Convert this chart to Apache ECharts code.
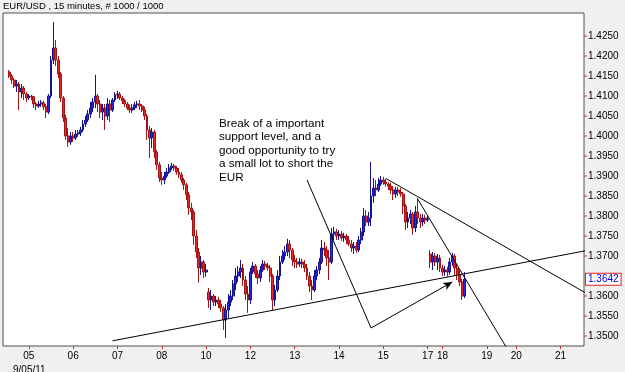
<!DOCTYPE html>
<html><head><meta charset="utf-8">
<script src="https://cdn.jsdelivr.net/npm/echarts@6/dist/echarts.min.js"></script>
<style>html,body{margin:0;padding:0;background:#f0f0f0}#c{width:625px;height:372px}</style>
</head><body><div id="c"></div>
<script>
// ---- data (15-minute EUR/USD bars, resampled) ----
const opens = [
1.4160,1.4150,1.4140,1.4125,1.4130,1.4110,1.4120,1.4105,1.4095,1.4100,
1.4098,1.4080,1.4075,1.4080,1.4083,1.4073,1.4060,1.4100,1.4190,1.4220,
1.4190,1.4155,1.4095,1.4045,1.4000,1.3985,1.4000,1.3995,1.4005,1.4008,
1.4015,1.4030,1.4040,1.4055,1.4070,1.4085,1.4100,1.4080,1.4060,1.4070,
1.4050,1.4080,1.4065,1.4090,1.4103,1.4105,1.4095,1.4088,1.4080,1.4070,
1.4065,1.4070,1.4078,1.4080,1.4075,1.4065,1.4050,1.4015,1.3995,1.4010,
1.3960,1.3928,1.3895,1.3890,1.3900,1.3910,1.3920,1.3925,1.3920,1.3910,
1.3903,1.3890,1.3878,1.3853,1.3820,1.3810,1.3750,1.3710,1.3670,1.3685,
1.3660,1.3610,1.3590,1.3600,1.3585,1.3590,1.3580,1.3570,1.3540,1.3565,
1.3585,1.3600,1.3630,1.3650,1.3660,1.3670,1.3640,1.3605,1.3590,1.3660,
1.3675,1.3655,1.3645,1.3665,1.3680,1.3675,1.3670,1.3650,1.3590,1.3615,
1.3650,1.3685,1.3700,1.3710,1.3730,1.3715,1.3690,1.3685,1.3680,1.3685,
1.3680,1.3670,1.3650,1.3625,1.3615,1.3650,1.3665,1.3685,1.3720,1.3715,
1.3695,1.3685,1.3755,1.3760,1.3750,1.3755,1.3745,1.3750,1.3740,1.3730,
1.3720,1.3725,1.3715,1.3740,1.3760,1.3800,1.3785,1.3795,1.3850,1.3870,
1.3865,1.3880,1.3890,1.3885,1.3880,1.3875,1.3865,1.3855,1.3865,1.3860,
1.3855,1.3825,1.3785,1.3795,1.3805,1.3770,1.3810,1.3795,1.3785,1.3795,
1.3790,1.3705,1.3685,1.3700,1.3685,1.3695,1.3670,1.3660,1.3665,1.3660,
1.3685,1.3700,1.3670,1.3655,1.3635,1.3600];
const closes = [
1.4150,1.4140,1.4125,1.4130,1.4110,1.4120,1.4105,1.4095,1.4100,1.4098,
1.4080,1.4075,1.4080,1.4083,1.4073,1.4060,1.4100,1.4190,1.4220,1.4190,
1.4155,1.4095,1.4045,1.4000,1.3985,1.4000,1.3995,1.4005,1.4008,1.4015,
1.4030,1.4040,1.4055,1.4070,1.4085,1.4100,1.4080,1.4060,1.4070,1.4050,
1.4080,1.4065,1.4090,1.4103,1.4105,1.4095,1.4088,1.4080,1.4070,1.4065,
1.4070,1.4078,1.4080,1.4075,1.4065,1.4050,1.4015,1.3995,1.4010,1.3960,
1.3928,1.3895,1.3890,1.3900,1.3910,1.3920,1.3925,1.3920,1.3910,1.3903,
1.3890,1.3878,1.3853,1.3820,1.3810,1.3750,1.3710,1.3670,1.3685,1.3660,
1.3665,1.3590,1.3600,1.3585,1.3590,1.3580,1.3570,1.3540,1.3565,1.3585,
1.3600,1.3630,1.3650,1.3660,1.3670,1.3640,1.3605,1.3590,1.3660,1.3675,
1.3655,1.3645,1.3665,1.3680,1.3675,1.3670,1.3650,1.3590,1.3615,1.3650,
1.3685,1.3700,1.3710,1.3730,1.3715,1.3690,1.3685,1.3680,1.3685,1.3680,
1.3670,1.3650,1.3625,1.3615,1.3650,1.3665,1.3685,1.3720,1.3715,1.3695,
1.3685,1.3755,1.3760,1.3750,1.3755,1.3745,1.3750,1.3740,1.3730,1.3720,
1.3725,1.3715,1.3740,1.3760,1.3800,1.3785,1.3795,1.3850,1.3870,1.3865,
1.3880,1.3890,1.3885,1.3880,1.3875,1.3865,1.3855,1.3865,1.3860,1.3855,
1.3825,1.3785,1.3795,1.3805,1.3770,1.3810,1.3795,1.3785,1.3795,1.3790,
1.3793,1.3685,1.3700,1.3685,1.3695,1.3670,1.3660,1.3665,1.3660,1.3685,
1.3700,1.3670,1.3655,1.3635,1.3600,1.3642];
const lows = [
1.4145,1.4130,1.4120,1.4110,1.4065,1.4095,1.4090,1.4085,1.4090,1.4090,
1.4070,1.4065,1.4070,1.4073,1.4065,1.4045,1.4055,1.4095,1.4180,1.4175,
1.4145,1.4085,1.4035,1.3990,1.3973,1.3978,1.3985,1.3990,1.3998,1.4000,
1.4010,1.4023,1.4035,1.4045,1.4060,1.4070,1.4060,1.4045,1.4040,1.4015,
1.4040,1.4035,1.4060,1.4085,1.4093,1.4090,1.4080,1.4073,1.4065,1.4058,
1.4058,1.4065,1.4070,1.4065,1.4060,1.4040,1.3990,1.3945,1.3970,1.3945,
1.3915,1.3885,1.3878,1.3880,1.3895,1.3905,1.3915,1.3913,1.3903,1.3895,
1.3883,1.3865,1.3840,1.3803,1.3790,1.3728,1.3695,1.3633,1.3653,1.3645,
1.3648,1.3570,1.3565,1.3575,1.3575,1.3570,1.3560,1.3515,1.3495,1.3545,
1.3575,1.3590,1.3615,1.3635,1.3645,1.3625,1.3590,1.3558,1.3580,1.3655,
1.3645,1.3630,1.3635,1.3660,1.3665,1.3663,1.3635,1.3565,1.3575,1.3610,
1.3640,1.3680,1.3690,1.3700,1.3695,1.3675,1.3670,1.3670,1.3673,1.3670,
1.3660,1.3640,1.3610,1.3590,1.3610,1.3640,1.3655,1.3680,1.3700,1.3675,
1.3640,1.3680,1.3740,1.3740,1.3740,1.3738,1.3735,1.3730,1.3725,1.3710,
1.3705,1.3708,1.3710,1.3730,1.3750,1.3775,1.3775,1.3775,1.3833,1.3850,
1.3860,1.3875,1.3878,1.3873,1.3865,1.3855,1.3840,1.3845,1.3850,1.3848,
1.3805,1.3765,1.3770,1.3780,1.3753,1.3760,1.3780,1.3770,1.3775,1.3780,
1.3785,1.3670,1.3665,1.3675,1.3665,1.3660,1.3650,1.3650,1.3648,1.3653,
1.3675,1.3650,1.3640,1.3625,1.3590,1.3595];
const highs = [
1.4165,1.4155,1.4145,1.4140,1.4135,1.4130,1.4125,1.4110,1.4105,1.4103,
1.4100,1.4085,1.4088,1.4090,1.4088,1.4080,1.4105,1.4200,1.4285,1.4240,
1.4200,1.4160,1.4100,1.4053,1.4020,1.4010,1.4010,1.4015,1.4015,1.4023,
1.4040,1.4050,1.4065,1.4085,1.4095,1.4153,1.4105,1.4090,1.4080,1.4080,
1.4095,1.4090,1.4095,1.4110,1.4113,1.4110,1.4100,1.4093,1.4085,1.4078,
1.4080,1.4085,1.4088,1.4090,1.4080,1.4073,1.4055,1.4025,1.4020,1.4015,
1.3965,1.3935,1.3910,1.3910,1.3920,1.3930,1.3933,1.3930,1.3925,1.3920,
1.3910,1.3895,1.3883,1.3860,1.3833,1.3815,1.3765,1.3720,1.3700,1.3690,
1.3680,1.3620,1.3615,1.3605,1.3600,1.3598,1.3590,1.3575,1.3580,1.3605,
1.3615,1.3640,1.3670,1.3675,1.3690,1.3680,1.3650,1.3625,1.3670,1.3685,
1.3680,1.3665,1.3675,1.3690,1.3688,1.3683,1.3678,1.3655,1.3628,1.3665,
1.3700,1.3715,1.3725,1.3743,1.3740,1.3720,1.3703,1.3695,1.3695,1.3693,
1.3690,1.3680,1.3660,1.3640,1.3665,1.3675,1.3695,1.3740,1.3735,1.3725,
1.3715,1.3770,1.3773,1.3768,1.3765,1.3763,1.3758,1.3755,1.3750,1.3740,
1.3735,1.3735,1.3750,1.3770,1.3820,1.3815,1.3810,1.3935,1.3895,1.3890,
1.3895,1.3900,1.3898,1.3893,1.3885,1.3883,1.3875,1.3873,1.3873,1.3870,
1.3860,1.3830,1.3810,1.3815,1.3810,1.3825,1.3845,1.3805,1.3805,1.3803,
1.3800,1.3715,1.3710,1.3708,1.3705,1.3703,1.3678,1.3675,1.3673,1.3695,
1.3708,1.3705,1.3680,1.3665,1.3643,1.3660];

// x-axis day labels and their bar slots
const dayLabels = ['05','06','07','08','10','12','13','14','15','17','18','19','20','21'];
const daySlots  = [10,28,46,64,82,100,118,136,154,172,178,196,208,226];
const slotCount = 236;
const firstSlot = 2;

// hand-drawn trend lines: [slot, price]
const supportLine = [[44, 1.3488], [242, 1.3720]];
const resistLine  = [[155, 1.3894], [242, 1.3587]];
const steepLine   = [[168, 1.3842], [217, 1.3337]];
const pointerLine = [[123, 1.3890], [149, 1.3520]];
const arrowLine   = [[149, 1.3520], [182, 1.3635]];

const chartTitle = 'EUR/USD , 15 minutes, # 1000 / 1000';
const startDate = '9/05/11';
const noteLines = ['Break of a important', 'support level, and a', 'good opportunity to try', 'a small lot to short the', 'EUR'];

const lastPrice = closes[closes.length - 1];
const categories = Array.from({length: slotCount}, () => '');
daySlots.forEach((s, k) => { categories[s] = dayLabels[k]; });
const candles = [];
for (let k = 0; k < firstSlot; k++) candles.push('-');
for (let k = 0; k < opens.length; k++) candles.push([opens[k], closes[k], lows[k], highs[k]]);

const FONT = 'Arial, "Liberation Sans", sans-serif';
const trend = (d) => ({type: 'line', data: d, symbol: 'none', clip: true, silent: true, z: 4,
  lineStyle: {color: '#000', width: 1}, animation: false});

const GRID = {left: 3, right: 41, top: 13, bottom: 26};
const chart = echarts.init(document.getElementById('c'), null, {renderer: 'canvas'});
chart.setOption({
  animation: false,
  backgroundColor: '#f0f0f0',
  textStyle: {fontFamily: FONT},
  grid: Object.assign({show: true, backgroundColor: '#ffffff', borderColor: '#505050', borderWidth: 1}, GRID),
  xAxis: {
    type: 'category', data: categories, boundaryGap: true,
    axisLine: {show: false},
    axisTick: {show: true, alignWithLabel: true, length: 3, interval: (i, v) => v !== '',
      lineStyle: {color: '#d03030'}},
    axisLabel: {interval: 0, margin: 5, fontSize: 10, color: '#000', fontFamily: FONT},
    splitLine: {show: false}
  },
  yAxis: {
    type: 'value', position: 'right', min: 1.3475, max: 1.43075, interval: 0.0025,
    axisLine: {show: false}, axisTick: {show: false}, splitLine: {show: false},
    axisLabel: {
      margin: 0,
      formatter: (v) => {
        const k = v * 200;
        if (Math.abs(k - Math.round(k)) > 1e-6) return '';
        if (v > 1.4275) return '';
        if (Math.abs(v - lastPrice) < 0.001) return '';
        return '{t|}{v|' + v.toFixed(4) + '}';
      },
      rich: {
        t: {width: 3, height: 1, backgroundColor: '#d03030'},
        v: {fontSize: 10, color: '#000', fontFamily: FONT, padding: [0, 0, 0, 1]}
      }
    }
  },
  series: [
    {
      type: 'candlestick', data: candles, barWidth: 2.4, silent: true,
      itemStyle: {color: '#2a2ae6', color0: '#e62a2a', borderColor: '#14148c', borderColor0: '#a01414', borderWidth: 1}
    },
    trend(supportLine),
    trend(resistLine),
    trend(steepLine),
    Object.assign(trend(pointerLine), {
      markLine: {
        silent: true, animation: false, symbol: ['none', 'arrow'], symbolSize: [6, 9],
        lineStyle: {color: '#000', width: 1, type: 'solid'}, label: {show: false},
        data: [[{coord: arrowLine[0]}, {coord: arrowLine[1]}]]
      }
    })
  ],
  graphic: [
    {type: 'text', left: 3, top: 1, style: {text: chartTitle, font: '9.5px ' + FONT, fill: '#000'}},
    {type: 'text', left: 219, top: 117, style: {text: noteLines.join('\n'), font: '11.7px ' + FONT,
      lineHeight: 13.4, fill: '#000'}},
    {type: 'text', left: 13, top: 365, style: {text: startDate, font: '10px ' + FONT, fill: '#000'}}
  ]
});

// current-price tag placed through the y scale
const py = chart.convertToPixel({yAxisIndex: 0}, lastPrice);
const px = chart.getWidth() - GRID.right + 2;
chart.setOption({
  graphic: [
    {id: 'priceTag', type: 'text', x: px, y: py, z: 100,
      style: {text: lastPrice.toFixed(4), font: '10px ' + FONT, fill: '#0000e0',
        backgroundColor: '#ffffff', borderColor: '#e02020', borderWidth: 1,
        padding: [1, 2, 0, 2], verticalAlign: 'middle', align: 'left'}}
  ]
});
</script>
</body></html>
